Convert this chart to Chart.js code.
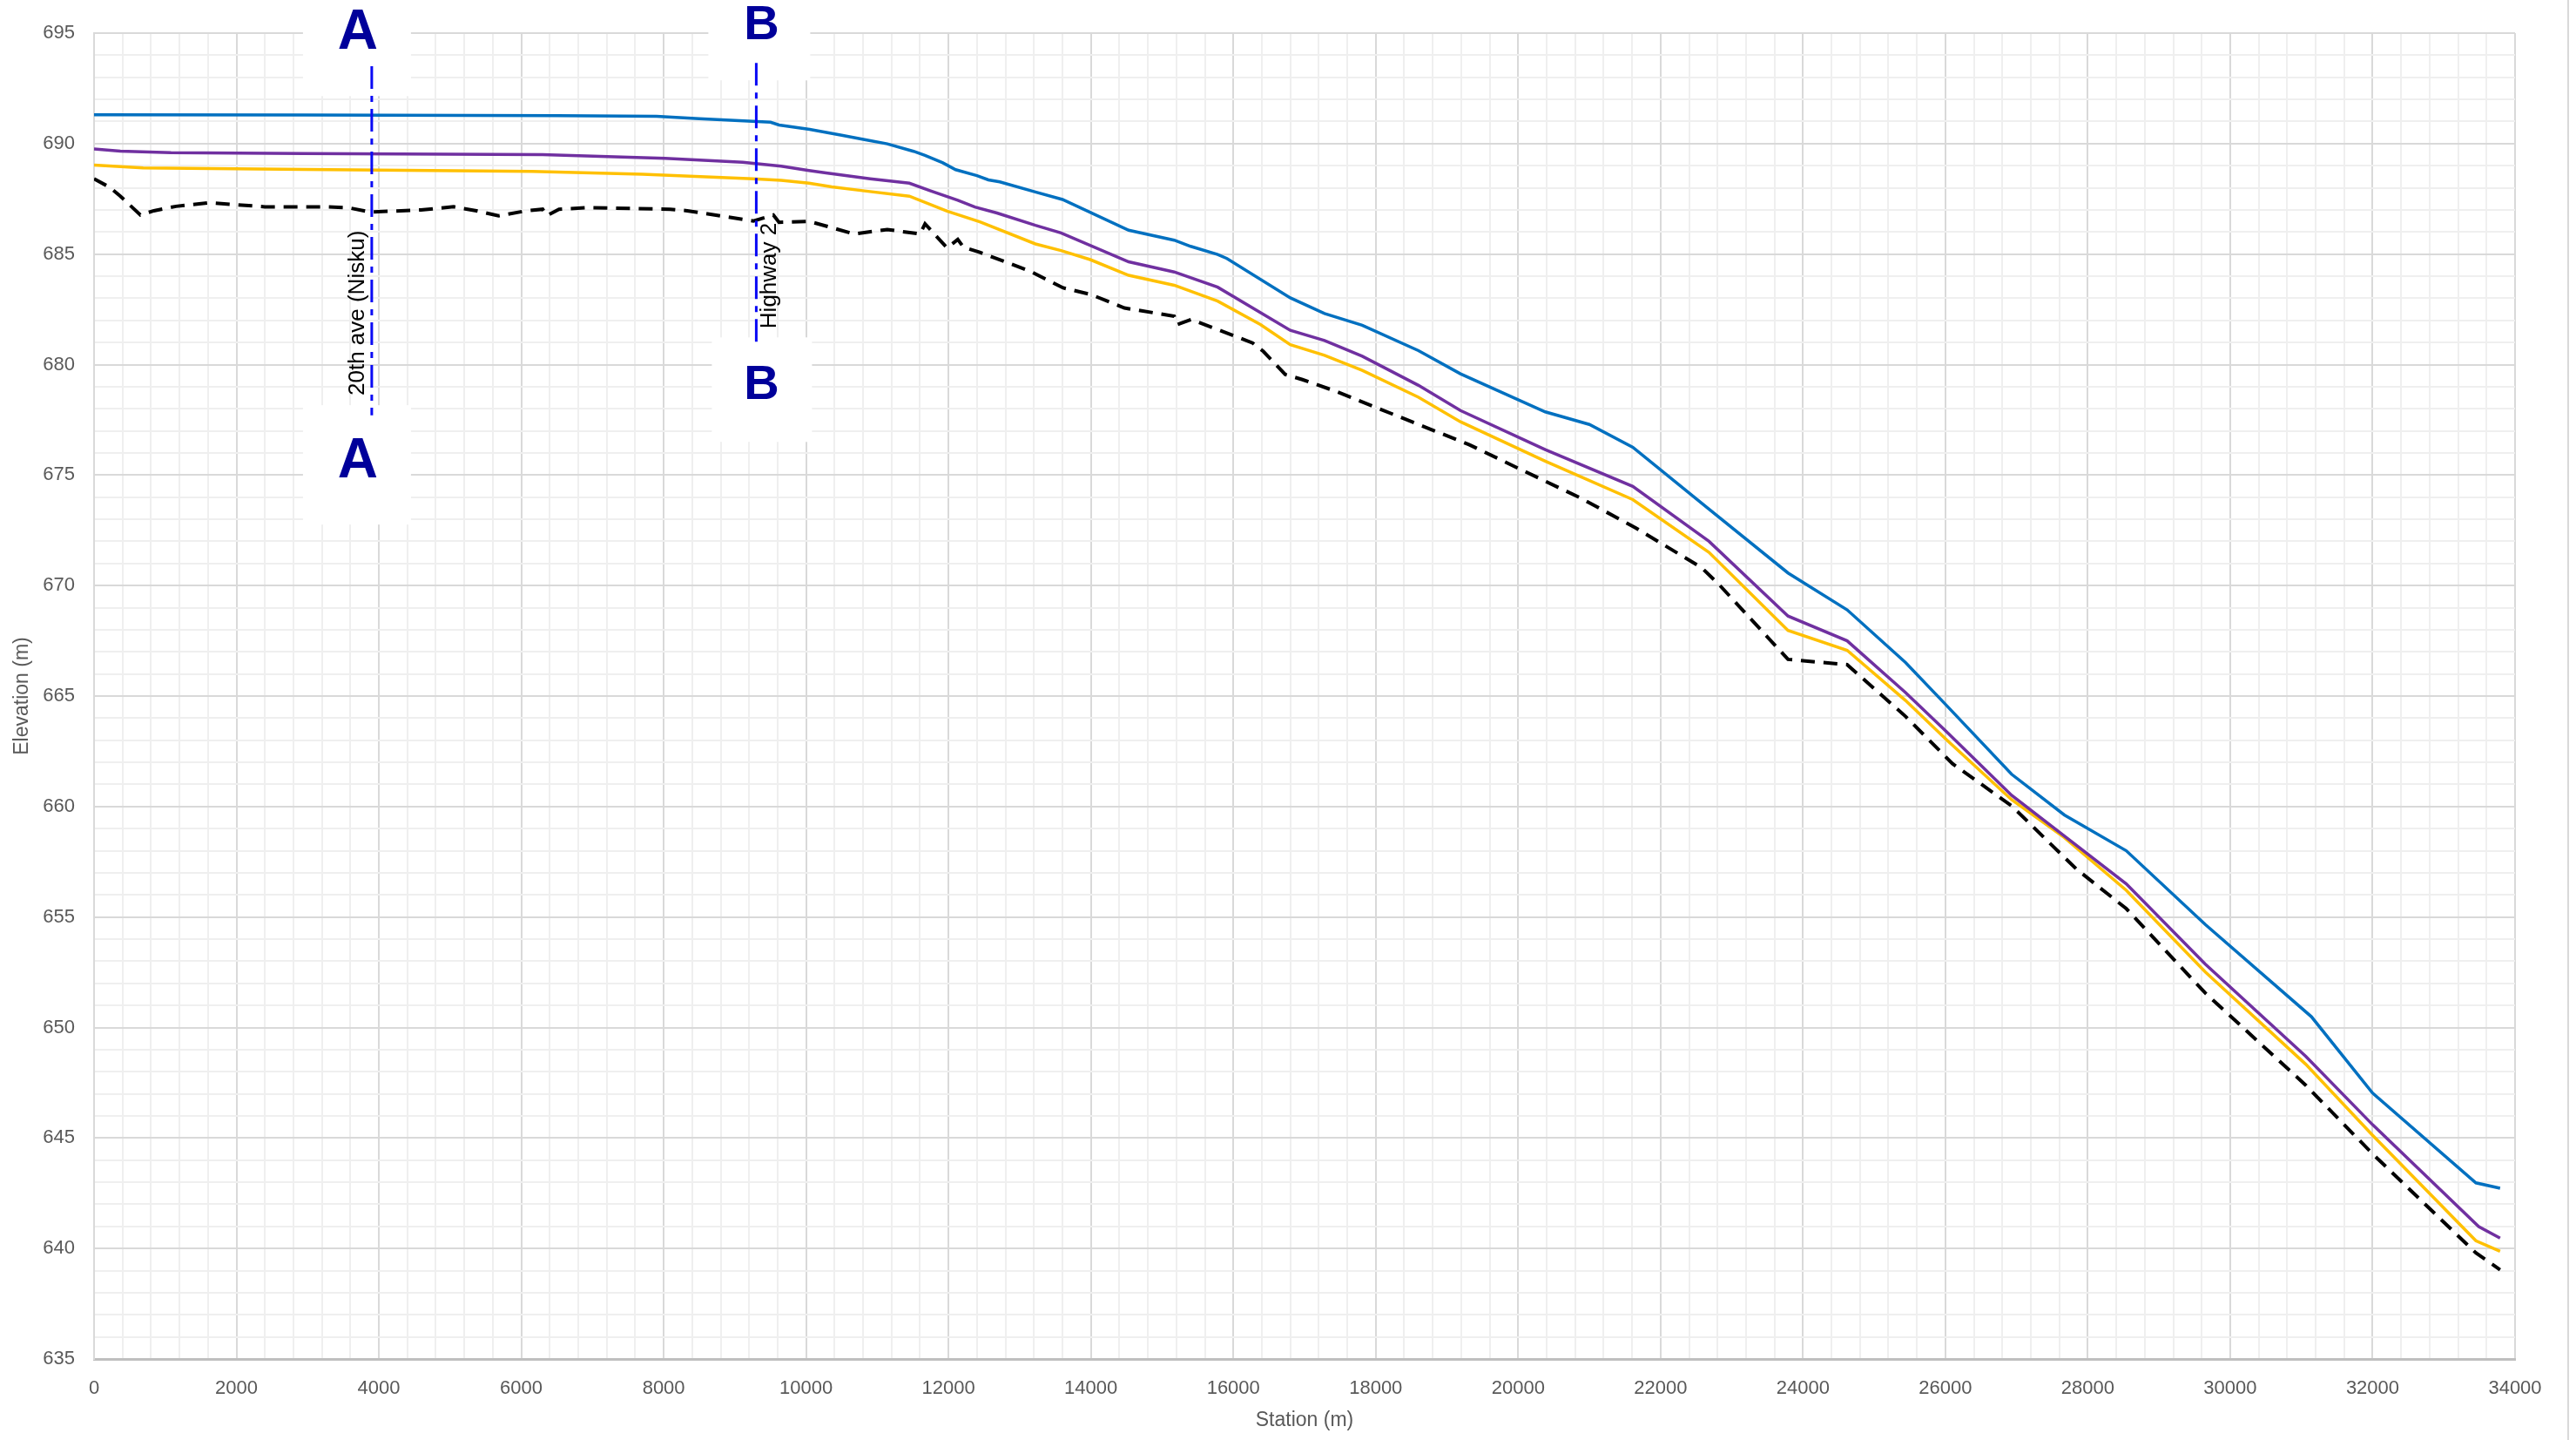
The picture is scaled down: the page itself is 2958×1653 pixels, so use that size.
<!DOCTYPE html>
<html>
<head>
<meta charset="utf-8">
<script src="https://cdn.jsdelivr.net/npm/chart.js"></script>
<style>
  html, body { margin: 0; padding: 0; background: #fff; }
</style>
</head>
<body>
<canvas id="profileChart" width="2958" height="1653"></canvas>

<script>
// --- profile data (station in m, elevation in m) ---
const highStation = [0, 2950, 6500, 7900, 8500, 9500, 9620, 10050, 10500, 10820, 11140, 11510, 11670, 11920, 12100, 12400, 12560, 12720, 13220, 13600, 14530, 15170, 15400, 15780, 15910, 16800, 17280, 17810, 18600, 19190, 20380, 21000, 21610, 22660, 23790, 24620, 25440, 26020, 26930, 27670, 28540, 29650, 31140, 32000, 33450, 33790];
const highElev = [691.30, 691.29, 691.26, 691.24, 691.13, 690.97, 690.84, 690.64, 690.38, 690.18, 689.99, 689.65, 689.47, 689.13, 688.82, 688.55, 688.36, 688.27, 687.81, 687.47, 686.08, 685.63, 685.35, 684.98, 684.80, 683.02, 682.31, 681.78, 680.63, 679.58, 677.86, 677.29, 676.26, 673.51, 670.57, 668.90, 666.52, 664.56, 661.46, 659.62, 658.00, 654.66, 650.49, 647.03, 642.97, 642.73];

const midStation = [0, 370, 1080, 2950, 6300, 8020, 9110, 9650, 10040, 10280, 10900, 11450, 11740, 12130, 12370, 12680, 13220, 13580, 14530, 15170, 15780, 16800, 17280, 17810, 18600, 19190, 20380, 21610, 22680, 23790, 24620, 25440, 26020, 26930, 27670, 28540, 29650, 31060, 32000, 33490, 33790];
const midElev = [689.76, 689.66, 689.59, 689.55, 689.50, 689.33, 689.16, 688.98, 688.78, 688.67, 688.41, 688.21, 687.87, 687.44, 687.13, 686.86, 686.30, 685.96, 684.65, 684.19, 683.50, 681.55, 681.09, 680.38, 679.06, 677.92, 676.15, 674.49, 672.00, 668.62, 667.50, 665.16, 663.37, 660.51, 658.67, 656.50, 652.87, 648.70, 645.60, 640.99, 640.47];

const lowStation = [0, 690, 2950, 6150, 7700, 9260, 9650, 10040, 10360, 10820, 11450, 11980, 12440, 13220, 13580, 13990, 14530, 15170, 15780, 16380, 16800, 17280, 17810, 18600, 19190, 20380, 21610, 22680, 23790, 24620, 25440, 26020, 26930, 27670, 28540, 29650, 31060, 32000, 33450, 33790];
const lowElev = [689.03, 688.90, 688.83, 688.74, 688.61, 688.41, 688.34, 688.21, 688.04, 687.86, 687.62, 686.94, 686.46, 685.46, 685.16, 684.75, 684.04, 683.59, 682.87, 681.81, 680.90, 680.42, 679.74, 678.52, 677.41, 675.63, 673.89, 671.50, 667.97, 667.07, 664.80, 663.01, 660.31, 658.60, 656.21, 652.51, 648.34, 645.12, 640.35, 639.87];

const bedStation = [0, 220, 370, 650, 840, 1150, 1620, 2010, 2400, 3260, 3570, 3880, 4590, 5050, 5370, 5680, 6070, 6300, 6360, 6530, 6930, 8090, 8330, 9260, 9540, 9620, 10040, 10280, 10670, 11140, 11600, 11670, 11980, 12130, 12210, 12440, 13150, 13610, 14000, 14470, 15170, 15210, 15410, 16270, 16420, 16730, 16970, 17440, 18600, 19310, 20090, 20870, 21650, 22580, 22820, 23790, 24620, 25440, 26100, 26930, 27840, 28540, 29650, 31060, 32000, 33450, 33790];
const bedElev = [688.41, 688.02, 687.62, 686.77, 686.96, 687.16, 687.32, 687.23, 687.14, 687.14, 687.10, 686.90, 687.00, 687.14, 686.96, 686.73, 686.96, 687.03, 686.74, 687.03, 687.10, 687.03, 686.96, 686.50, 686.77, 686.44, 686.48, 686.27, 685.91, 686.11, 685.91, 686.37, 685.28, 685.66, 685.31, 685.08, 684.22, 683.47, 683.17, 682.56, 682.19, 681.81, 682.04, 680.98, 680.60, 679.55, 679.32, 678.79, 677.29, 676.38, 675.17, 673.97, 672.61, 670.80, 670.05, 666.66, 666.42, 664.08, 661.94, 660.03, 657.17, 655.38, 651.56, 647.39, 644.28, 639.80, 639.04];

// road crossings and section letters
const crossingNames = ['20th ave (Nisku)', 'Highway 2'];
const crossingStations = [3900, 9300];
const sectionLetters = ['A', 'B'];

// axis range / ticks
const stationMin = 0, stationMax = 34000, stationMajor = 2000, stationMinor = 400;
const elevMin = 635, elevMax = 695, elevMajor = 5, elevMinor = 1;

function pts(xs, ys) {
  return xs.map((x, i) => ({ x: x, y: ys[i] }));
}

// where each crossing's marks sit (elevations), plus pixel offsets from the line
const crossingLayout = [
  { lineTop: 693.5, lineBottom: 677.7, textStart: 678.6, textDx: -9,
    letterDx: -16, letterSize: 64,
    topBox: { l: -79, r: 45, bottom: 692.15 }, topLetter: 695.19,
    botBox: { l: -79, r: 45, top: 678.16, bottom: 672.76 }, botLetter: 675.81 },
  { lineTop: 693.65, lineBottom: 680.83, textStart: 681.63, textDx: 23,
    letterDx: 6, letterSize: 56,
    topBox: { l: -55, r: 62, bottom: 692.86 }, topLetter: 695.5,
    botBox: { l: -51, r: 64, top: 681.23, bottom: 676.5 }, botLetter: 679.22 }
];

const crossingsPlugin = {
  id: 'crossings',
  beforeDatasetsDraw(chart) {
    const ctx = chart.ctx, xs = chart.scales.x, ys = chart.scales.y;
    ctx.save();
    ctx.fillStyle = '#ffffff';
    crossingStations.forEach((st, i) => {
      const L = crossingLayout[i];
      const lx = xs.getPixelForValue(st);
      ctx.fillRect(lx + L.topBox.l, 0, L.topBox.r - L.topBox.l, ys.getPixelForValue(L.topBox.bottom));
      const bt = ys.getPixelForValue(L.botBox.top), bb = ys.getPixelForValue(L.botBox.bottom);
      ctx.fillRect(lx + L.botBox.l, bt, L.botBox.r - L.botBox.l, bb - bt);
    });
    ctx.restore();
  },
  afterDatasetsDraw(chart) {
    const ctx = chart.ctx, xs = chart.scales.x, ys = chart.scales.y;
    ctx.save();
    crossingStations.forEach((st, i) => {
      const L = crossingLayout[i];
      const lx = xs.getPixelForValue(st);
      // dash-dot section line
      ctx.beginPath();
      ctx.strokeStyle = '#0a0af5';
      ctx.lineWidth = 3;
      ctx.setLineDash([26, 8, 7, 8]);
      ctx.moveTo(lx, ys.getPixelForValue(L.lineTop));
      ctx.lineTo(lx, ys.getPixelForValue(L.lineBottom));
      ctx.stroke();
      ctx.setLineDash([]);

      // road name, rotated
      ctx.save();
      ctx.translate(lx + L.textDx, ys.getPixelForValue(L.textStart));
      ctx.rotate(-Math.PI / 2);
      ctx.fillStyle = '#000000';
      ctx.font = '26px "Liberation Sans", Arial, sans-serif';
      ctx.textAlign = 'left';
      ctx.textBaseline = 'alphabetic';
      ctx.fillText(crossingNames[i], 0, 0);
      ctx.restore();

      // section letters
      ctx.fillStyle = '#00009a';
      ctx.font = 'bold ' + L.letterSize + 'px "Liberation Sans", Arial, sans-serif';
      ctx.textAlign = 'center';
      ctx.textBaseline = 'alphabetic';
      const half = L.letterSize * 0.716 / 2;
      ctx.fillText(sectionLetters[i], lx + L.letterDx, ys.getPixelForValue(L.topLetter) + half);
      ctx.fillText(sectionLetters[i], lx + L.letterDx, ys.getPixelForValue(L.botLetter) + half);
    });
    ctx.restore();
  },
  afterDraw(chart) {
    // outer frame edge on the right
    const ctx = chart.ctx;
    ctx.save();
    ctx.strokeStyle = '#d9d9d9';
    ctx.lineWidth = 2;
    ctx.beginPath();
    ctx.moveTo(chart.width - 9, 0);
    ctx.lineTo(chart.width - 9, chart.height);
    ctx.stroke();
    ctx.restore();
  }
};

const tickFont = { family: '"Liberation Sans", Arial, sans-serif', size: 22 };
const titleFont = { family: '"Liberation Sans", Arial, sans-serif', size: 23 };
const gridColor = (major) => (c) => (c.tick && Math.abs(c.tick.value % major) < 1e-6) ? '#d9d9d9' : '#efefef';

const config = {
  type: 'line',
  data: {
    datasets: [
      { data: pts(highStation, highElev), borderColor: '#0070c0', borderWidth: 3.5 },
      { data: pts(midStation, midElev), borderColor: '#7030a0', borderWidth: 3.5 },
      { data: pts(lowStation, lowElev), borderColor: '#ffc000', borderWidth: 3.5 },
      { data: pts(bedStation, bedElev), borderColor: '#000000', borderWidth: 4, borderDash: [16, 10] }
    ]
  },
  options: {
    responsive: false,
    devicePixelRatio: 1,
    animation: false,
    elements: { point: { radius: 0 }, line: { tension: 0, fill: false } },
    layout: { padding: { top: 38, right: 70, left: 0, bottom: 0 } },
    plugins: { legend: { display: false }, tooltip: { enabled: false } },
    scales: {
      x: {
        type: 'linear',
        min: stationMin, max: stationMax,
        afterFit: (s) => { s.height = 93; },
        ticks: {
          stepSize: stationMinor, autoSkip: false, maxRotation: 0, padding: 21,
          color: '#595959', font: tickFont,
          callback: (v) => (v % stationMajor === 0 ? v : '')
        },
        grid: { color: gridColor(stationMajor), lineWidth: 2, drawTicks: false },
        border: { color: '#bfbfbf', width: 3 },
        title: { display: true, text: 'Station (m)', color: '#595959', font: titleFont, padding: { top: 0, bottom: 9 } }
      },
      y: {
        type: 'linear',
        min: elevMin, max: elevMax,
        afterFit: (s) => { s.width = 108; },
        ticks: {
          stepSize: elevMinor, autoSkip: false, padding: 22,
          color: '#595959', font: tickFont,
          callback: (v) => (v % elevMajor === 0 ? v : '')
        },
        grid: { color: gridColor(elevMajor), lineWidth: 2, drawTicks: false },
        border: { color: '#d9d9d9', width: 2 },
        title: { display: true, text: 'Elevation (m)', color: '#595959', font: titleFont, padding: { top: 12, bottom: 0 } }
      }
    }
  },
  plugins: [crossingsPlugin]
};

const profileChart = new Chart(document.getElementById('profileChart'), config);
</script>
</body>
</html>
